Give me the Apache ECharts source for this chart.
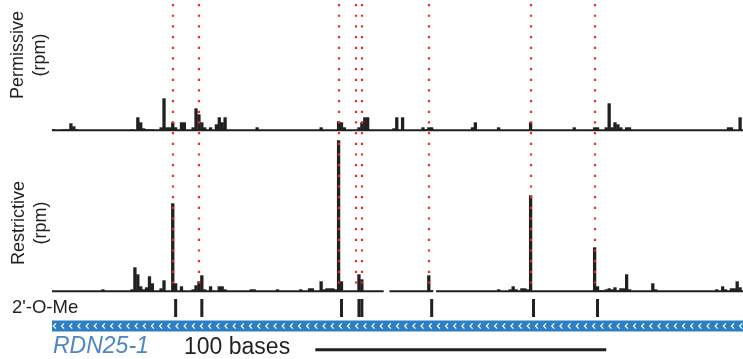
<!DOCTYPE html>
<html>
<head>
<meta charset="utf-8">
<script src="https://cdn.jsdelivr.net/npm/echarts@6/dist/echarts.min.js"></script>
<style>
  html, body { margin: 0; padding: 0; background: #fff; }
  #chart { width: 743px; height: 359px; }
</style>
</head>
<body>
<div id="chart"></div>
<script>
// positions are bases along RDN25-1 (0 = left end of the window)
const X_MIN = -0.5;
const X_MAX = 237;

// [base, reads]
const permissive = [
  [0, 1], [3, 1], [4, 1], [5, 1], [6, 7], [7, 4], [8, 1],
  [27, 1], [29, 13], [30, 8], [31, 2], [32, 1], [33, 1], [34, 1],
  [37, 3], [38, 32], [39, 3], [40, 3], [41, 8], [42, 3],
  [44, 8], [45, 8], [48, 3], [49, 22], [50, 16], [51, 8], [52, 3],
  [54, 3], [56, 6], [57, 13], [58, 8], [59, 13],
  [70, 3], [92, 3], [98, 9], [99, 8], [100, 3],
  [105, 3], [106, 8], [107, 13], [108, 13],
  [117, 2], [118, 13], [120, 13],
  [127, 3], [128, 1], [129, 3], [130, 3],
  [144, 3], [145, 8], [153, 3], [164, 8], [179, 3],
  [186, 3], [187, 3], [190, 3], [191, 27], [192, 3], [193, 8], [194, 6], [195, 3],
  [197, 3], [198, 3], [232, 3], [233, 3], [236, 13]
];

const restrictive = [
  [17, 2],
  [27, 2], [28, 24], [29, 17], [30, 5], [31, 2], [32, 4], [33, 15], [34, 8],
  [37, 3], [38, 11], [41, 88], [42, 8], [44, 5],
  [48, 2], [49, 6], [50, 10], [51, 16], [52, 2],
  [54, 5], [57, 5], [58, 5], [59, 2],
  [68, 2], [69, 2], [77, 2], [85, 2], [88, 3], [89, 3],
  [92, 10], [93, 2], [94, 3], [95, 3], [96, 3], [97, 2], [98, 151], [99, 10],
  [105, 17], [106, 12],
  [129, 16], [130, 1],
  [153, 2], [157, 2], [158, 5], [159, 2], [161, 3], [162, 3], [163, 2], [164, 96],
  [186, 44], [187, 5], [188, 1], [189, 1], [190, 2], [191, 3], [192, 2], [193, 4],
  [194, 1], [195, 3], [196, 3], [197, 17], [198, 2],
  [206, 8], [207, 2], [228, 2], [230, 5], [231, 2],
  [233, 3], [234, 3], [235, 10], [236, 4]
];

// covered stretches [from, to]
const permissiveCoverage = [[-0.5, 237]];
const restrictiveCoverage = [[-0.5, 113.5], [115.5, 130.5], [131.5, 237]];

const cleavageSites = [41, 50, 98, 104, 106, 129, 164, 186];
const methylSites = [42, 51, 99, 105, 106, 130, 165, 187];

const gene = [[-0.5, 237]];
const scaleBar = [[90, 190]];

const INK = '#231f20';
const RED = '#ee2a24';
const BLUE = '#2e7ec2';
const FONT = '"Liberation Sans", Arial, Helvetica, sans-serif';

const chart = echarts.init(document.getElementById('chart'), null, { renderer: 'canvas' });

const grid = [
  { left: 52, right: 0, top: 4, height: 126.3 },
  { left: 52, right: 0, top: 132, height: 159.3 },
  { left: 52, right: 0, top: 4, height: 288 },
  { left: 52, right: 0, top: 299, height: 18 },
  { left: 52, right: 0, top: 320.5, height: 11 },
  { left: 52, right: 0, top: 348.3, height: 3 }
];
const yMax = [126.3, 159.3, 1, 1, 1, 1];

const xAxis = grid.map((g, i) => ({ gridIndex: i, type: 'value', min: X_MIN, max: X_MAX, show: false }));
const yAxis = grid.map((g, i) => ({ gridIndex: i, type: 'value', min: 0, max: yMax[i], show: false }));

function baseline(params, api) {
  const a = api.coord([api.value(0), 0]);
  const b = api.coord([api.value(1), 0]);
  return { type: 'rect', shape: { x: a[0], y: a[1] - 1, width: b[0] - a[0], height: 2 }, style: { fill: INK } };
}

const option = {
  animation: false,
  grid, xAxis, yAxis,
  series: [
    {
      type: 'bar', xAxisIndex: 0, yAxisIndex: 0, data: permissive,
      barWidth: 3.3, itemStyle: { color: INK }, silent: true
    },
    { type: 'custom', xAxisIndex: 0, yAxisIndex: 0, data: permissiveCoverage, renderItem: baseline, silent: true },
    {
      type: 'bar', xAxisIndex: 1, yAxisIndex: 1, data: restrictive,
      barWidth: 3.3, itemStyle: { color: INK }, silent: true
    },
    { type: 'custom', xAxisIndex: 1, yAxisIndex: 1, data: restrictiveCoverage, renderItem: baseline, silent: true },
    {
      type: 'custom', xAxisIndex: 2, yAxisIndex: 2, z: 10, silent: true,
      data: cleavageSites.map(k => [k]),
      renderItem: (params, api) => {
        const t = api.coord([api.value(0), 1]);
        const b = api.coord([api.value(0), 0]);
        const x = Math.round(t[0]);
        return {
          type: 'line',
          shape: { x1: x, y1: Math.round(t[1]), x2: x, y2: b[1] },
          style: { stroke: RED, lineWidth: 2.2, lineDash: [2.2, 8.47] }
        };
      }
    },
    {
      type: 'bar', xAxisIndex: 3, yAxisIndex: 3, silent: true,
      data: methylSites.map(k => [k, 1]),
      barWidth: 3, itemStyle: { color: INK }
    },
    {
      type: 'custom', xAxisIndex: 4, yAxisIndex: 4, data: gene, silent: true,
      renderItem: (params, api) => {
        const a = api.coord([api.value(0), 1]);
        const b = api.coord([api.value(1), 0]);
        const cy = (a[1] + b[1]) / 2;
        const children = [{
          type: 'rect',
          shape: { x: a[0], y: a[1], width: b[0] - a[0], height: b[1] - a[1] },
          style: { fill: BLUE }
        }];
        for (let x = a[0] + 2.6; x < b[0] - 1.5; x += 8.17) {
          children.push({
            type: 'polyline',
            shape: { points: [[x + 1.3, cy - 2.7], [x - 1.2, cy], [x + 1.3, cy + 2.7]] },
            style: { stroke: '#fff', lineWidth: 1.2, fill: null }
          });
        }
        return { type: 'group', children };
      }
    },
    {
      type: 'custom', xAxisIndex: 5, yAxisIndex: 5, data: scaleBar, silent: true,
      renderItem: (params, api) => {
        const a = api.coord([api.value(0), 1]);
        const b = api.coord([api.value(1), 0]);
        return { type: 'rect', shape: { x: a[0], y: a[1], width: b[0] - a[0], height: b[1] - a[1] }, style: { fill: INK } };
      }
    }
  ],
  graphic: [
    {
      type: 'text', x: 29, y: 55, rotation: Math.PI / 2, silent: true,
      style: { text: 'Permissive\n(rpm)', fontSize: 18, fontFamily: FONT, fill: INK,
        textAlign: 'center', textVerticalAlign: 'middle', lineHeight: 22 }
    },
    {
      type: 'text', x: 30, y: 223, rotation: Math.PI / 2, silent: true,
      style: { text: 'Restrictive\n(rpm)', fontSize: 18, fontFamily: FONT, fill: INK,
        textAlign: 'center', textVerticalAlign: 'middle', lineHeight: 22 }
    },
    {
      type: 'text', x: 12, y: 308, silent: true,
      style: { text: "2'-O-Me", fontSize: 18.5, fontFamily: FONT, fill: INK, textVerticalAlign: 'middle' }
    },
    {
      type: 'text', x: 53, y: 347, silent: true,
      style: { text: 'RDN25-1', fontSize: 23, fontStyle: 'italic', fontFamily: FONT, fill: '#4d86c6', textVerticalAlign: 'middle' }
    },
    {
      type: 'text', x: 184, y: 347.5, silent: true,
      style: { text: '100 bases', fontSize: 23, fontFamily: FONT, fill: INK, textVerticalAlign: 'middle' }
    }
  ]
};

chart.setOption(option);
</script>
</body>
</html>
